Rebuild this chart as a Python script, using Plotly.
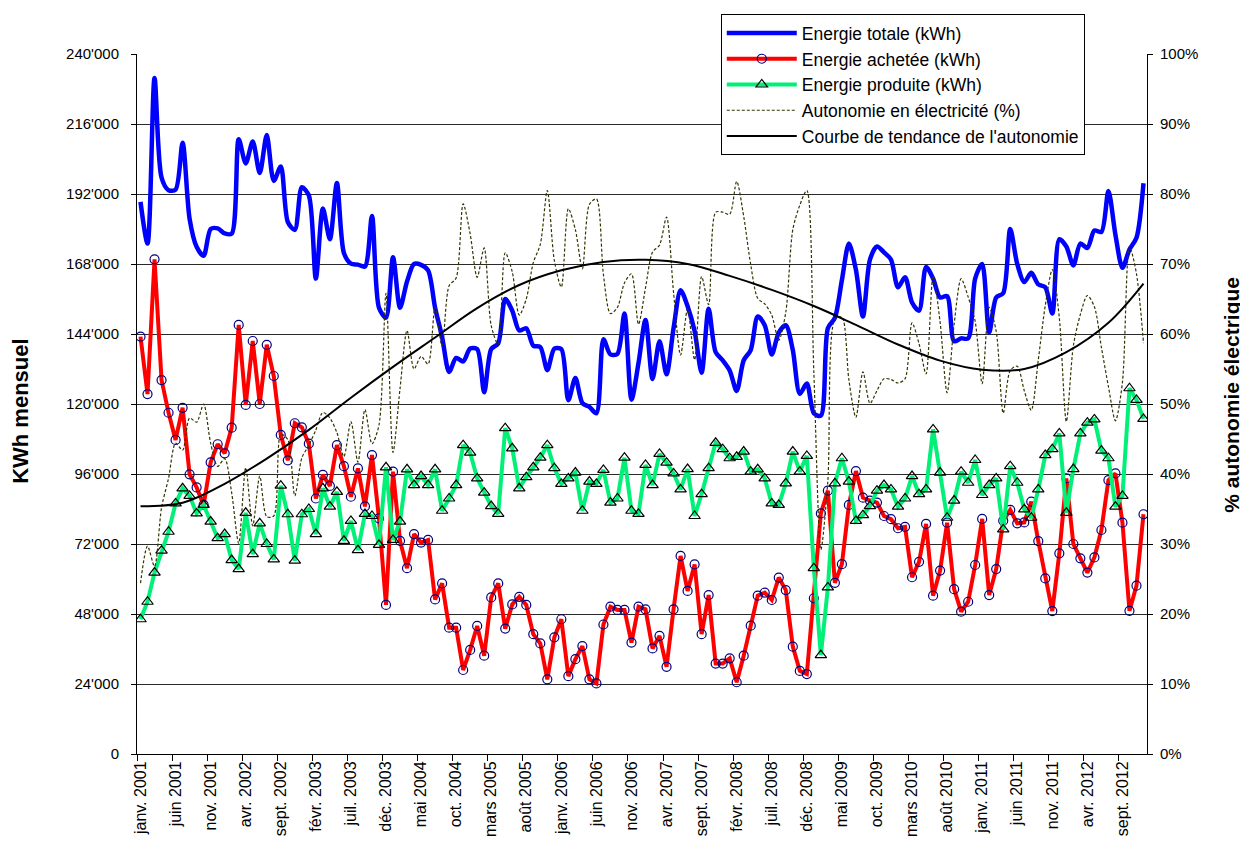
import plotly.graph_objects as go

# ---------------- data (monthly, janv. 2001 -> déc. 2012) ----------------
x_tick_labels = ["janv. 2001", "juin 2001", "nov. 2001", "avr. 2002", "sept. 2002", "févr. 2003",
                 "juil. 2003", "déc. 2003", "mai 2004", "oct. 2004", "mars 2005", "août 2005",
                 "janv. 2006", "juin 2006", "nov. 2006", "avr. 2007", "sept. 2007", "févr. 2008",
                 "juil. 2008", "déc. 2008", "mai 2009", "oct. 2009", "mars 2010", "août 2010",
                 "janv. 2011", "juin 2011", "nov. 2011", "avr. 2012", "sept. 2012"]

energie_totale = [
    189300, 175000, 231800, 197600, 193300, 193500, 209600, 183500, 173900, 170800, 180000, 180200,
    178500, 178400, 210800, 202500, 210000, 199200, 212200, 196500, 201400, 182400, 179700, 194300,
    191500, 163000, 187000, 176500, 195800, 171800, 168100, 167800, 167100, 184500, 153000, 149600,
    170300, 153000, 162000, 168000, 167700, 165800, 153000, 143000, 131000, 135800, 134600, 139000,
    138800, 124000, 138800, 140800, 156000, 152000, 145200, 146000, 140000, 139500, 131600, 139000,
    138800, 121300, 128900, 120300, 119000, 116800, 142200, 137000, 137200, 151000, 121500, 134000,
    148800, 128600, 141500, 130200, 146000, 159000, 153500, 145000, 130700, 152700, 137800, 135000,
    131500, 124500, 135000, 138500, 150000, 147000, 137000, 144500, 147000, 138500, 123500, 127000,
    116800, 116000, 146000, 149500, 162500, 175000, 166000, 150000, 169500, 174000, 172000, 169500,
    160000, 163500, 154800, 152000, 167000, 163000, 156500, 157000, 141500, 142500, 142500, 163000,
    168000, 144500, 156500, 158000, 180000, 168000, 161800, 165000, 161000, 160000, 151000, 176500,
    174000, 167500, 175000, 173500, 179500, 179000, 193000, 178000, 166700, 173000, 177000, 195700]

energie_achetee = [
    143100, 123400, 169600, 128200, 117000, 107700, 118700, 95900, 91400, 85400, 100000, 106200,
    103100, 111900, 147100, 119700, 141600, 120000, 140300, 129600, 109400, 100700, 113400, 112000,
    106400, 87600, 95700, 91900, 105900, 98700, 88200, 97900, 84900, 102500, 80800, 51100,
    96800, 73100, 63700, 75400, 72500, 73400, 53000, 58500, 43300, 43300, 28800, 35700,
    43900, 33700, 53700, 58500, 43000, 51300, 53900, 51100, 41100, 37900, 25600, 40000,
    46200, 26700, 32500, 37000, 25600, 24200, 44400, 50500, 49400, 49400, 38200, 50500,
    49600, 36200, 40500, 29900, 49600, 67900, 55900, 65000, 41100, 54500, 31000, 31000,
    32800, 24600, 33700, 44000, 54300, 55300, 52800, 60500, 56200, 36800, 28500, 27400,
    53400, 82500, 90300, 58700, 65100, 85400, 97000, 87900, 86900, 86200, 81600, 80500,
    77400, 77900, 60600, 65900, 78900, 54300, 62900, 79300, 56500, 48800, 52200, 64800,
    80600, 54500, 63400, 80000, 83700, 79100, 79400, 86500, 73000, 60200, 49000, 68800,
    94500, 72000, 67100, 62200, 67400, 76800, 93900, 96200, 79300, 49100, 57700, 82200]

energie_produite = [
    46200, 52200, 62200, 69700, 76200, 85900, 91100, 88500, 82500, 85400, 79700, 74000,
    75400, 66500, 63400, 82700, 68500, 79100, 72000, 66700, 92000, 82200, 66300, 82200,
    84000, 75400, 91100, 84800, 89900, 73100, 79900, 69900, 82300, 81600, 71700, 98300,
    73400, 79700, 97600, 92200, 95300, 92200, 97600, 83400, 87600, 92200, 105900, 103300,
    94500, 89600, 85000, 82300, 111700, 104800, 91100, 94900, 98300, 101600, 105900, 98000,
    92600, 94500, 96500, 83400, 93400, 92600, 97400, 86200, 87600, 101600, 83400, 82300,
    99100, 92200, 102900, 99900, 96200, 90700, 97700, 81600, 89100, 98000, 106700, 104500,
    101400, 101900, 103700, 96800, 97600, 94500, 85900, 85400, 92800, 103700, 96800, 102200,
    63700, 33900, 57100, 92800, 101400, 93400, 79900, 81900, 85000, 90300, 92200, 90700,
    84800, 87600, 95300, 89100, 90700, 111300, 96500, 81000, 86900, 96800, 93000, 100800,
    88800, 92200, 94500, 77000, 98700, 93000, 83900, 81000, 90700, 102500, 104500, 109900,
    82700, 97700, 109900, 113600, 114700, 104000, 101400, 84800, 88500, 125400, 121400, 114900]

autonomie_pct = [
    24.4, 29.7, 26.8, 35.2, 39.4, 44.4, 43.4, 48.0, 47.4, 50.0, 44.4, 41.1,
    42.2, 37.3, 30.1, 40.9, 32.6, 39.7, 33.9, 34.0, 45.7, 44.9, 36.9, 42.3,
    44.1, 46.3, 48.8, 48.0, 45.9, 42.5, 47.5, 41.7, 49.2, 44.3, 47.0, 65.8,
    43.1, 52.2, 60.5, 55.0, 56.8, 55.7, 63.8, 58.3, 66.9, 68.0, 78.6, 74.3,
    68.1, 72.3, 61.2, 58.5, 71.6, 68.9, 62.7, 65.0, 70.2, 72.8, 80.5, 70.5,
    66.7, 77.9, 74.9, 69.3, 78.5, 79.3, 68.5, 62.9, 63.8, 67.3, 68.6, 61.4,
    66.6, 71.7, 72.7, 76.7, 65.9, 57.0, 63.6, 56.3, 68.2, 64.2, 77.4, 77.4,
    77.1, 81.8, 76.8, 69.9, 65.1, 64.3, 62.7, 59.1, 63.1, 74.9, 78.4, 80.5,
    54.5, 29.2, 39.1, 62.1, 62.4, 53.4, 48.1, 54.6, 50.1, 51.9, 53.6, 53.5,
    53.0, 53.6, 61.6, 58.6, 54.3, 68.3, 61.7, 51.6, 61.4, 67.9, 65.3, 61.8,
    52.9, 63.8, 60.4, 48.7, 54.8, 55.4, 51.9, 49.1, 56.3, 64.1, 69.2, 62.3,
    47.5, 58.3, 62.8, 65.5, 63.9, 58.1, 52.5, 47.6, 53.1, 72.5, 68.6, 58.7]

# trend curve read at selected months (month index, %)
tendance_mois = [0, 6, 12, 18, 24, 30, 36, 42, 48, 54, 60, 66, 72, 78, 84, 90, 96, 102, 108, 114, 120, 126, 132, 138, 143]
tendance_pct = [35.4, 35.9, 38.6, 42.2, 46.3, 50.9, 55.3, 59.5, 63.7, 67.0, 69.1, 70.3, 70.6, 70.0, 68.3, 66.3,
                64.0, 61.3, 58.5, 56.2, 54.9, 55.0, 57.4, 61.6, 67.2]

y_left_ticks = [0, 24000, 48000, 72000, 96000, 120000, 144000, 168000, 192000, 216000, 240000]
y_left_labels = ["0", "24'000", "48'000", "72'000", "96'000", "120'000", "144'000", "168'000",
                 "192'000", "216'000", "240'000"]
y_right_ticks = [0, 10, 20, 30, 40, 50, 60, 70, 80, 90, 100]
y_right_labels = ["0%", "10%", "20%", "30%", "40%", "50%", "60%", "70%", "80%", "90%", "100%"]

mois = list(range(len(energie_totale)))
label_pos = mois[::5][:len(x_tick_labels)]
boundaries = [p - 0.5 for p in mois[::5]]

FONT = "Arial, Liberation Sans, sans-serif"

fig = go.Figure()
fig.add_trace(go.Scatter(
    x=mois, y=energie_totale, name="Energie totale (kWh)", mode="lines",
    line=dict(color="#0000FF", width=4.5, shape="spline", smoothing=0.8),
    legendgroup="a"))
fig.add_trace(go.Scatter(
    x=mois, y=energie_achetee, name="Energie achetée (kWh)", mode="lines+markers",
    line=dict(color="#FF0000", width=4),
    marker=dict(symbol="circle-open", size=9, color="#000080", line=dict(width=1.2)),
    legendgroup="b"))
fig.add_trace(go.Scatter(
    x=mois, y=energie_produite, name="Energie produite (kWh)", mode="lines+markers",
    line=dict(color="#00F078", width=4),
    marker=dict(symbol="triangle-up-open", size=10, color="#000000", line=dict(width=1.2)),
    legendgroup="c"))
fig.add_trace(go.Scatter(
    x=mois, y=autonomie_pct, name="Autonomie en électricité (%)", mode="lines", yaxis="y2",
    line=dict(color="#333300", width=1.2, dash="3px,2px", shape="spline", smoothing=0.8),
    legendgroup="d"))
fig.add_trace(go.Scatter(
    x=tendance_mois, y=tendance_pct, name="Courbe de tendance de l'autonomie", mode="lines", yaxis="y2",
    line=dict(color="#000000", width=2, shape="spline"),
    legendgroup="e"))

# the page body adds an 8px offset, so the figure is 8px smaller and margins shifted accordingly
fig.update_layout(
    width=1240, height=846, autosize=False,
    template="none",
    paper_bgcolor="white", plot_bgcolor="white",
    margin=dict(l=129, r=101, t=46, b=100, autoexpand=False),
    font=dict(family=FONT, size=15, color="black"),
    showlegend=True,
    legend=dict(x=0.578, y=1.057, xanchor="left", yanchor="top",
                bgcolor="white", bordercolor="black", borderwidth=1,
                font=dict(family=FONT, size=17.5, color="black"),
                itemwidth=70, tracegroupgap=12, traceorder="normal"),
    xaxis=dict(range=[-0.5, len(mois) - 0.5], tickmode="array", tickvals=label_pos,
               ticktext=x_tick_labels, tickangle=-90, ticks="", showgrid=False, zeroline=False,
               showline=True, linecolor="black", linewidth=1, automargin=False,
               tickfont=dict(family=FONT, size=16, color="black"),
               minor=dict(tickmode="array", tickvals=boundaries, ticks="outside", ticklen=6,
                          tickcolor="black", tickwidth=1, showgrid=False)),
    yaxis=dict(range=[0, 240000], tickmode="array", tickvals=y_left_ticks, ticktext=y_left_labels,
               showgrid=True, gridcolor="#2a2a2a", gridwidth=1, zeroline=False,
               showline=True, linecolor="black", linewidth=1, ticks="outside", ticklen=5,
               tickcolor="black", automargin=False, ticklabelstandoff=9,
               tickfont=dict(family=FONT, size=15, color="black")),
    yaxis2=dict(range=[0, 100], overlaying="y", side="right", tickmode="array",
                tickvals=y_right_ticks, ticktext=y_right_labels, showgrid=False, zeroline=False,
                showline=True, linecolor="black", linewidth=1, ticks="outside", ticklen=5,
                tickcolor="black", automargin=False, ticklabelstandoff=4,
                tickfont=dict(family=FONT, size=15, color="black")),
    annotations=[
        dict(text="<b>KWh mensuel</b>", xref="paper", yref="paper", x=-0.116, y=0.49,
             textangle=-90, showarrow=False, font=dict(family=FONT, size=22, color="black"),
             xanchor="center", yanchor="middle"),
        dict(text="<b>% autonomie électrique</b>", xref="paper", yref="paper", x=1.084, y=0.513,
             textangle=-90, showarrow=False, font=dict(family=FONT, size=21, color="black"),
             xanchor="center", yanchor="middle"),
    ],
)

fig.write_html("out.html")
